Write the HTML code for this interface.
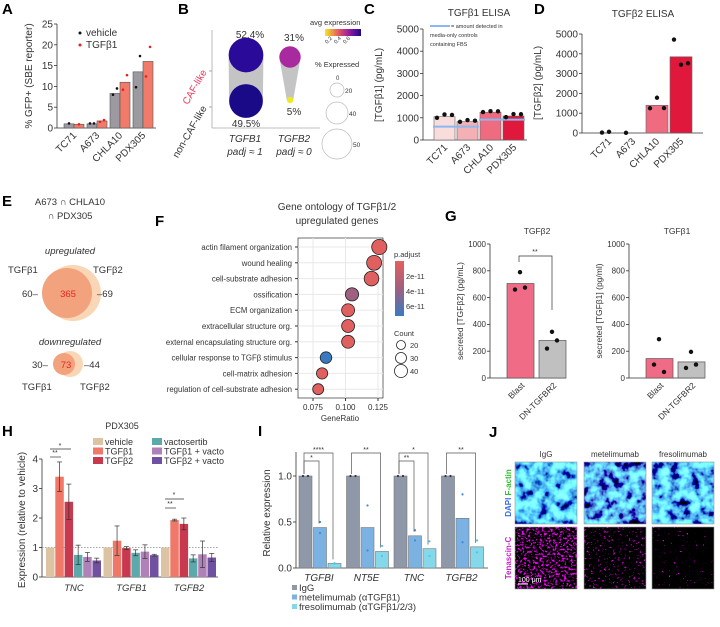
<!DOCTYPE html>
<html><head><meta charset="utf-8"><style>
html,body{margin:0;padding:0;background:#fff}
svg{display:block;font-family:"Liberation Sans",sans-serif}
text{fill:#333}
.pl{font-weight:bold;font-size:15px;fill:#000}
</style></head><body>
<svg id="fig" width="720" height="627" viewBox="0 0 720 627" xmlns="http://www.w3.org/2000/svg">
<defs>
<filter id="noiseA" x="0" y="0" width="100%" height="100%"><feTurbulence type="fractalNoise" baseFrequency="0.1" numOctaves="3" seed="3"/><feColorMatrix values="0.6 0 0 0 -0.2  3 0 0 0 -0.9  3 0 0 0 -0.45  0 0 0 0 1"/></filter>
<filter id="noiseB" x="0" y="0" width="100%" height="100%"><feTurbulence type="fractalNoise" baseFrequency="0.1" numOctaves="3" seed="9"/><feColorMatrix values="0.6 0 0 0 -0.2  3.4 0 0 0 -1.25  3.4 0 0 0 -0.8  0 0 0 0 1"/></filter>
<filter id="noiseC" x="0" y="0" width="100%" height="100%"><feTurbulence type="fractalNoise" baseFrequency="0.1" numOctaves="3" seed="17"/><feColorMatrix values="0.6 0 0 0 -0.2  3.2 0 0 0 -1.05  3.2 0 0 0 -0.6  0 0 0 0 1"/></filter>
<filter id="magA" x="0" y="0" width="100%" height="100%"><feTurbulence type="fractalNoise" baseFrequency="0.45" numOctaves="2" seed="5"/><feColorMatrix values="6 0 0 0 -3.3  0 0 0 0 0  6 0 0 0 -3.3  0 0 0 0 1"/></filter>
<filter id="magB" x="0" y="0" width="100%" height="100%"><feTurbulence type="fractalNoise" baseFrequency="0.45" numOctaves="2" seed="7"/><feColorMatrix values="8 0 0 0 -5.3  0 0 0 0 0  8 0 0 0 -5.3  0 0 0 0 1"/></filter>
<filter id="magC" x="0" y="0" width="100%" height="100%"><feTurbulence type="fractalNoise" baseFrequency="0.45" numOctaves="2" seed="11"/><feColorMatrix values="10 0 0 0 -7.4  0 0 0 0 0  10 0 0 0 -7.4  0 0 0 0 1"/></filter>
<linearGradient id="avg" x1="0" x2="1"><stop offset="0" stop-color="#f8e620"/><stop offset="0.4" stop-color="#e0506a"/><stop offset="0.7" stop-color="#8a1aa0"/><stop offset="1" stop-color="#1a0a8c"/></linearGradient>
<linearGradient id="padj" x1="0" y1="0" x2="0" y2="1"><stop offset="0" stop-color="#e36060"/><stop offset="0.5" stop-color="#a06080"/><stop offset="1" stop-color="#3a7ac0"/></linearGradient>
</defs>
<g id="root"></g>
</svg>
<script>
// ---- Panel A data
const aCats=["TC71","A673","CHLA10","PDX305"];
const aVeh=[1.0,1.0,8.3,13.5];
const aTgf=[0.9,1.7,11.0,16.0];
const aVehPts=[[1.1],[1.1,1.1],[9.5,8.0],[17.3,9.8]];
const aTgfPts=[[0.9],[1.9,1.5],[12.7,9.2],[19.5,12.4]];
const aTicks=[0,5,10,15,20,25];
// ---- Panel B data
const bPct=[[52.4,49.5],[31,5]];
const bGenes=["TGFB1","TGFB2"];
// ---- Panel C data
const cCats=["TC71","A673","CHLA10","PDX305"];
const cVals=[1050,830,1250,1080];
const cPts=[[1000,1150,1130],[820,900,870],[1260,1300,1290],[1030,1170,1160]];
const cMedia=[600,600,920,920];
const cTicks=[0,1000,2000,3000,4000,5000];
// ---- Panel D data
const dCats=["TC71","A673","CHLA10","PDX305"];
const dVals=[0,0,1400,3850];
const dPts=[[20,60],[10],[1250,1780,1260],[4720,3450,3520]];
const dTicks=[0,1000,2000,3000,4000,5000];
// ---- Panel F data
const fTerms=["actin filament organization","wound healing","cell-substrate adhesion","ossification","ECM organization","extracellular structure org.","external encapsulating structure org.","cellular response to TGFβ stimulus","cell-matrix adhesion","regulation of cell-substrate adhesion"];
const fRatio=[0.126,0.122,0.120,0.105,0.102,0.102,0.102,0.085,0.082,0.079];
const fPadj=[1e-12,1e-12,1e-12,4.5e-11,1e-12,1e-12,1e-12,7e-11,1e-12,1e-12];
const fCount=[40,39,38,33,32,32,32,27,26,25];
const fTicks=[0.075,0.100,0.125];
// ---- Panel G data
const gCats=["Blast","DN-TGFBR2"];
const g2Vals=[705,280];
const g2Pts=[[790,660,675],[345,220,280]];
const g1Vals=[145,120];
const g1Pts=[[290,100,45],[195,75,100]];
const gTicks=[0,200,400,600,800,1000];
// ---- Panel H data
const hGenes=["TNC","TGFB1","TGFB2"];
const hSeries=["vehicle","TGFβ1","TGFβ2","vactosertib","TGFβ1 + vacto","TGFβ2 + vacto"];
const hVals=[[1,3.4,2.55,0.75,0.68,0.56],[1,1.23,0.98,0.82,0.86,0.74],[1,1.93,1.8,0.63,0.77,0.66]];
const hErr=[[0,0.5,0.6,0.33,0.15,0.08],[0,0.5,0.05,0.1,0.23,0.03],[0,0.03,0.2,0.12,0.45,0.14]];
const hTicks=[0,1,2,3,4];
// ---- Panel I data
const iGenes=["TGFBI","NT5E","TNC","TGFB2"];
const iSeries=["IgG","metelimumab (αTGFβ1)","fresolimumab  (αTGFβ1/2/3)"];
const iVals=[[1,0.44,0.05],[1,0.44,0.18],[1,0.35,0.21],[1,0.54,0.23]];
const iPts=[[[1,1],[0.5,0.38],[0.05,0.05]],[[1,1],[0.68,0.19],[0.24,0.13]],[[1,1],[0.41,0.3],[0.29,0.13]],[[1,1],[0.8,0.28],[0.3,0.17]]];
const iTicks=[0,0.5,1.0];
const iSig=[["*","****"],["**"],["**","*"],["**"]];

const NS="http://www.w3.org/2000/svg";
const root=document.getElementById('root');
function el(tag,attrs,parent,txt){const e=document.createElementNS(NS,tag);for(const k in attrs)e.setAttribute(k,attrs[k]);if(txt!==undefined)e.textContent=txt;(parent||root).appendChild(e);return e;}
function grp(name){const g=el('g',{});return g;}
function lin(d0,d1,r0,r1){return v=>r0+(v-d0)/(d1-d0)*(r1-r0);}
function yAxis(g,x,y,ticks,fs,fmt){const y0=y(ticks[0]),y1=y(ticks[ticks.length-1]);el('line',{x1:x,x2:x,y1:y0,y2:y1,stroke:'#333','stroke-width':0.8},g);ticks.forEach(t=>{el('line',{x1:x-3,x2:x,y1:y(t),y2:y(t),stroke:'#333','stroke-width':0.8},g);el('text',{x:x-4,y:y(t)+fs*0.35,'text-anchor':'end','font-size':fs},g,fmt?fmt(t):t);});}
function rotLabel(g,x,y,txt,fs,ang){el('text',{x:x,y:y,'text-anchor':'end','font-size':fs,transform:`rotate(${ang||-45} ${x} ${y})`},g,txt);}
function dot(g,x,y,r,fill){el('circle',{cx:x,cy:y,r:r,fill:fill},g);}

// ================= A
(function(){const g=grp('panel-a');
el('text',{x:2,y:14,class:'pl'},g,'A');
const y=lin(0,25,128,24);
yAxis(g,57,y,aTicks,10);
el('line',{x1:57,x2:156,y1:128,y2:128,stroke:'#333','stroke-width':0.8},g);
el('text',{x:0,y:0,'font-size':10,'text-anchor':'middle',transform:'translate(32 76) rotate(-90)'},g,'% GFP+ (SBE reporter)');
aCats.forEach((c,i)=>{const x0=64+i*23;
 let b=el('rect',{x:x0,y:y(aVeh[i]),width:10,height:128-y(aVeh[i]),fill:'#9a9aa0',stroke:'#555','stroke-width':0.6},g);
 b=el('rect',{x:x0+10,y:y(aTgf[i]),width:10,height:128-y(aTgf[i]),fill:'#f07b6a',stroke:'#555','stroke-width':0.6},g);
 aVehPts[i].forEach((v,j)=>dot(g,x0+5+(j?-2:2)*(aVehPts[i].length>1?1:0),y(v),1.3,'#111'));
 aTgfPts[i].forEach((v,j)=>dot(g,x0+15+(j?-2:2)*(aTgfPts[i].length>1?1:0),y(v),1.3,'#e82020'));
 rotLabel(g,x0+13,136,c,10);});
dot(g,80,33,1.5,'#111');el('text',{x:86,y:36,'font-size':10},g,'vehicle');
dot(g,80,45,1.5,'#e82020');el('text',{x:86,y:48,'font-size':10},g,'TGFβ1');
})();

// ================= B
(function(){const g=grp('panel-b');
el('text',{x:178,y:14,class:'pl'},g,'B');
el('line',{x1:212,x2:212,y1:30,y2:128,stroke:'#aaa','stroke-width':0.8},g);
el('line',{x1:212,x2:320,y1:128,y2:128,stroke:'#aaa','stroke-width':0.8},g);
el('line',{x1:209,x2:212,y1:71,y2:71,stroke:'#aaa'},g);el('line',{x1:209,x2:212,y1:107,y2:107,stroke:'#aaa'},g);
el('text',{x:0,y:0,'font-size':10,'text-anchor':'end',transform:'translate(207 72) rotate(-60)',style:'fill:#e83a5a'},g,'CAF-like');
el('text',{x:0,y:0,'font-size':10,'text-anchor':'end',transform:'translate(207 108) rotate(-60)'},g,'non-CAF-like');
const r=p=>Math.sqrt(p)*2.4;
el('path',{d:`M${246-r(bPct[0][0])} 58 L${246-r(bPct[0][1])} 100 L${246+r(bPct[0][1])} 100 L${246+r(bPct[0][0])} 58Z`,fill:'#c4c4c4'},g);
el('path',{d:`M${290-r(bPct[1][0])*0.8} 57 L${290-r(bPct[1][1])*0.6} 100 L${290+r(bPct[1][1])*0.6} 100 L${290+r(bPct[1][0])*0.8} 57Z`,fill:'#c4c4c4'},g);
let c=el('circle',{cx:246,cy:55,r:r(bPct[0][0]),fill:'#2a0a98'},g);
c=el('circle',{cx:246,cy:101,r:r(bPct[0][1]),fill:'#1a0a88'},g);
c=el('circle',{cx:290,cy:57,r:r(bPct[1][0])*0.8,fill:'#a82a9e'},g);
c=el('circle',{cx:290,cy:100,r:r(bPct[1][1])*0.6,fill:'#f0e820'},g);
el('text',{x:250,y:38,'text-anchor':'middle','font-size':10},g,bPct[0][0]+'%');
el('text',{x:246,y:127,'text-anchor':'middle','font-size':10},g,bPct[0][1]+'%');
el('text',{x:294,y:41,'text-anchor':'middle','font-size':10},g,bPct[1][0]+'%');
el('text',{x:294,y:115,'text-anchor':'middle','font-size':10},g,bPct[1][1]+'%');
el('text',{x:245,y:142,'text-anchor':'middle','font-size':10,'font-style':'italic'},g,'TGFB1');
el('text',{x:245,y:155,'text-anchor':'middle','font-size':10,'font-style':'italic'},g,'padj ≈ 1');
el('text',{x:294,y:142,'text-anchor':'middle','font-size':10,'font-style':'italic'},g,'TGFB2');
el('text',{x:294,y:155,'text-anchor':'middle','font-size':10,'font-style':'italic'},g,'padj ≈ 0');
el('text',{x:310,y:25,'font-size':7.5},g,'avg expression');
el('rect',{x:325,y:29,width:36,height:7,fill:'url(#avg)'},g);
['0.2','0.4','0.6'].forEach((t,i)=>el('text',{x:0,y:0,'font-size':5.5,transform:`translate(${327+i*9} 44) rotate(-45)`},g,t));
el('text',{x:315,y:67,'font-size':7.5},g,'% Expressed');
el('text',{x:336,y:80,'font-size':6},g,'0');
[[20,7,90],[40,11,113],[50,15,144]].forEach(a=>{el('circle',{cx:337,cy:a[2],r:a[1],fill:'none',stroke:'#bbb','stroke-width':0.7},g);el('text',{x:337+a[1]+1,y:a[2]+3,'font-size':6.5},g,a[0]);});
})();

// ================= C
(function(){const g=grp('panel-c');
el('text',{x:364,y:14,class:'pl'},g,'C');
el('text',{x:479,y:16,'text-anchor':'middle','font-size':10},g,'TGFβ1 ELISA');
const y=lin(0,5000,140,29);
yAxis(g,423,y,cTicks,10);
el('line',{x1:423,x2:527,y1:140,y2:140,stroke:'#333','stroke-width':0.8},g);
el('text',{x:0,y:0,'font-size':10,'text-anchor':'middle',transform:'translate(382 85) rotate(-90)'},g,'[TGFβ1] (pg/mL)');
const cols=['#f9dcdc','#f3b0b5','#ee6b80','#e0183c'];
cCats.forEach((c,i)=>{const x0=434+i*23;
 const b=el('rect',{x:x0,y:y(cVals[i]),width:21,height:140-y(cVals[i]),fill:cols[i],stroke:'#666','stroke-width':0.6},g);
 el('line',{x1:x0-1,x2:x0+22,y1:y(cMedia[i]),y2:y(cMedia[i]),stroke:'#8ab8f0','stroke-width':2},g);
 cPts[i].forEach((v,j)=>dot(g,x0+3+j*7.5,y(v),2.2,'#111'));
 rotLabel(g,x0+14,148,c,10);});
el('line',{x1:430,x2:450,y1:26,y2:26,stroke:'#8ab8f0','stroke-width':2},g);
el('text',{x:451,y:28,'font-size':5.5},g,'= amount detected in');
el('text',{x:430,y:37,'font-size':5.5},g,'media-only controls');
el('text',{x:430,y:46,'font-size':5.5},g,'containing FBS');
})();

// ================= D
(function(){const g=grp('panel-d');
el('text',{x:534,y:14,class:'pl'},g,'D');
el('text',{x:643,y:17,'text-anchor':'middle','font-size':10},g,'TGFβ2 ELISA');
const y=lin(0,5000,133,34);
yAxis(g,582,y,dTicks,10);
el('line',{x1:582,x2:703,y1:133,y2:133,stroke:'#333','stroke-width':0.8},g);
el('text',{x:0,y:0,'font-size':10,'text-anchor':'middle',transform:'translate(541 83) rotate(-90)'},g,'[TGFβ2] (pg/mL)');
const cols=['#f9dcdc','#f3b0b5','#ee6b80','#e0183c'];
dCats.forEach((c,i)=>{const x0=598+i*24;
 if(dVals[i]>0){const b=el('rect',{x:x0,y:y(dVals[i]),width:22,height:133-y(dVals[i]),fill:cols[i],stroke:'#666','stroke-width':0.6},g);}
 dPts[i].forEach((v,j)=>dot(g,x0+4+j*7,y(v),2.2,'#111'));
 rotLabel(g,x0+14,142,c,10);});
})();

// ================= E
(function(){const g=grp('panel-e');
el('text',{x:2,y:206,class:'pl'},g,'E');
el('text',{x:70,y:205,'text-anchor':'middle','font-size':9.5},g,'A673 ∩ CHLA10');
el('text',{x:70,y:219,'text-anchor':'middle','font-size':9.5},g,'∩ PDX305');
el('text',{x:70,y:254,'text-anchor':'middle','font-size':9.5,'font-style':'italic'},g,'upregulated');
el('circle',{cx:73,cy:293,r:28,fill:'#f9d6b6'},g);
el('circle',{cx:67,cy:293,r:25,fill:'#f2a27c'},g);
el('text',{x:68,y:297,'text-anchor':'middle','font-size':9.5,style:'fill:#e8262a'},g,'365');
el('text',{x:8,y:273,'font-size':9.5},g,'TGFβ1');el('text',{x:93,y:273,'font-size':9.5},g,'TGFβ2');
el('text',{x:22,y:297,'font-size':9.5},g,'60–');el('text',{x:97,y:297,'font-size':9.5},g,'–69');
el('text',{x:70,y:345,'text-anchor':'middle','font-size':9.5,'font-style':'italic'},g,'downregulated');
el('circle',{cx:70,cy:364,r:13,fill:'#f9d6b6'},g);
el('circle',{cx:64,cy:364,r:11,fill:'#f2a27c'},g);
el('text',{x:66,y:368,'text-anchor':'middle','font-size':9.5,style:'fill:#e8262a'},g,'73');
el('text',{x:32,y:368,'font-size':9.5},g,'30–');el('text',{x:84,y:368,'font-size':9.5},g,'–44');
el('text',{x:22,y:390,'font-size':9.5},g,'TGFβ1');el('text',{x:80,y:390,'font-size':9.5},g,'TGFβ2');
})();

// ================= F
(function(){const g=grp('panel-f');
el('text',{x:155,y:226,class:'pl'},g,'F');
el('text',{x:337,y:210,'text-anchor':'middle','font-size':10},g,'Gene ontology of TGFβ1/2');
el('text',{x:337,y:224,'text-anchor':'middle','font-size':10},g,'upregulated genes');
const x=lin(0.075,0.125,313,378);
const yr=i=>247+i*15.8;
el('rect',{x:298,y:238,width:85,height:160,fill:'#fff',stroke:'#333','stroke-width':0.7},g);
fTicks.forEach(t=>{el('line',{x1:x(t),x2:x(t),y1:238,y2:398,stroke:'#e8e8e8'},g);el('line',{x1:x(t),x2:x(t),y1:398,y2:401,stroke:'#333'},g);el('text',{x:x(t),y:410,'text-anchor':'middle','font-size':8},g,t.toFixed(3));});
el('text',{x:340,y:421,'text-anchor':'middle','font-size':8},g,'GeneRatio');
const col=p=>p>6e-11?'#3a7ac0':(p>3e-11?'#a06080':'#e06060');
fTerms.forEach((t,i)=>{el('line',{x1:298,x2:383,y1:yr(i),y2:yr(i),stroke:'#e8e8e8'},g);el('line',{x1:295,x2:298,y1:yr(i),y2:yr(i),stroke:'#333'},g);
 el('text',{x:292,y:yr(i)+3,'text-anchor':'end','font-size':7.8},g,t);
 const c=el('circle',{cx:x(fRatio[i]),cy:yr(i),r:2+fCount[i]*0.14,fill:col(fPadj[i]),stroke:'#222','stroke-width':0.8},g);});
el('text',{x:394,y:257,'font-size':7.5},g,'p.adjust');
el('rect',{x:395,y:261,width:9,height:55,fill:'url(#padj)'},g);
[['2e-11',276],['4e-11',291],['6e-11',306]].forEach(a=>el('text',{x:406,y:a[1]+3,'font-size':7.5},g,a[0]));
el('text',{x:394,y:336,'font-size':7.5},g,'Count');
[[20,345,4.5],[30,358,5.5],[40,371,6.5]].forEach(a=>{el('circle',{cx:401,cy:a[1],r:a[2],fill:'none',stroke:'#222','stroke-width':0.8},g);el('text',{x:410,y:a[1]+3,'font-size':7.5},g,a[0]);});
})();

// ================= G
(function(){const g=grp('panel-g');
el('text',{x:445,y:221,class:'pl'},g,'G');
const y=lin(0,1000,378,244);
function sub(ax,vals,pts,title,lab,tx){
 el('text',{x:tx,y:234,'text-anchor':'middle','font-size':8.5},g,title);
 yAxis(g,ax,y,gTicks,8);
 el('line',{x1:ax,x2:ax+76,y1:378,y2:378,stroke:'#333','stroke-width':0.8},g);
 el('text',{x:0,y:0,'font-size':8.5,'text-anchor':'middle',transform:`translate(${ax-27} 311) rotate(-90)`},g,lab);
 const cols=['#f06c86','#c0c0c0'];
 gCats.forEach((c,i)=>{const x0=ax+17+i*32;
  const b=el('rect',{x:x0,y:y(vals[i]),width:27,height:378-y(vals[i]),fill:cols[i],stroke:'#555','stroke-width':0.7},g);
  pts[i].forEach((v,j)=>dot(g,x0+13+[0,-5,5][j],y(v),2.2,'#111'));
  rotLabel(g,x0+18,386,c,8.5);});}
sub(490,g2Vals,g2Pts,'TGFβ2','secreted [TGFβ2] (pg/mL)',537);
sub(629,g1Vals,g1Pts,'TGFβ1','secreted [TGFβ1] (pg/ml)',677);
el('path',{d:'M519 262 V256 H552 V310',fill:'none',stroke:'#333','stroke-width':0.7},g);
el('text',{x:535,y:254,'text-anchor':'middle','font-size':7},g,'**');
})();

// ================= H
(function(){const g=grp('panel-h');
el('text',{x:2,y:436,class:'pl'},g,'H');
el('text',{x:122,y:429,'text-anchor':'middle','font-size':9},g,'PDX305');
const y=lin(0,4,577,459);
yAxis(g,42,y,hTicks,10);
el('line',{x1:42,x2:218,y1:577,y2:577,stroke:'#333','stroke-width':0.8},g);
el('line',{x1:42,x2:218,y1:y(1),y2:y(1),stroke:'#888','stroke-width':0.7,'stroke-dasharray':'1.5,1.5'},g);
el('text',{x:0,y:0,'font-size':10,'text-anchor':'middle',transform:'translate(25 520) rotate(-90)'},g,'Expression (relative to vehicle)');
const cols=['#dcc3a4','#f07868','#c8384e','#5ba9aa','#b080b8','#7050a0'];
hGenes.forEach((gn,k)=>{const gx=46+k*57.5;
 hVals[k].forEach((v,i)=>{const x0=gx+i*9.3;
  const b=el('rect',{x:x0,y:y(v),width:8.5,height:577-y(v),fill:cols[i]},g);
  if(hErr[k][i]>0){const cx=x0+4.25;el('line',{x1:cx,x2:cx,y1:y(v+hErr[k][i]),y2:y(v-hErr[k][i]),stroke:'#333','stroke-width':0.7},g);[v+hErr[k][i],v-hErr[k][i]].forEach(e=>el('line',{x1:cx-2.5,x2:cx+2.5,y1:y(e),y2:y(e),stroke:'#333','stroke-width':0.7},g));}});
 el('text',{x:gx+28,y:591,'text-anchor':'middle','font-size':9.5,'font-style':'italic'},g,gn);});
el('line',{x1:50,x2:61,y1:457,y2:457,stroke:'#333','stroke-width':0.7},g);el('text',{x:55,y:455,'text-anchor':'middle','font-size':7},g,'**');
el('line',{x1:50,x2:71,y1:449,y2:449,stroke:'#333','stroke-width':0.7},g);el('text',{x:60,y:448,'text-anchor':'middle','font-size':7},g,'*');
el('line',{x1:165,x2:176,y1:508,y2:508,stroke:'#333','stroke-width':0.7},g);el('text',{x:170,y:506,'text-anchor':'middle','font-size':7},g,'**');
el('line',{x1:165,x2:184,y1:499,y2:499,stroke:'#333','stroke-width':0.7},g);el('text',{x:174,y:497,'text-anchor':'middle','font-size':7},g,'*');
hSeries.forEach((s,i)=>{const lx=i<3?93:152,ly=444+(i%3)*9.5;
 el('rect',{x:lx,y:ly-6,width:10,height:7,fill:cols[i]},g);el('text',{x:lx+12,y:ly+1,'font-size':9},g,s);});
})();

// ================= I
(function(){const g=grp('panel-i');
el('text',{x:258,y:436,class:'pl'},g,'I');
const y=lin(0,1,568,476);
yAxis(g,296,y,iTicks,10,t=>t.toFixed(1));
el('line',{x1:296,x2:296,y1:476,y2:452,stroke:'#333','stroke-width':0.8},g);
el('line',{x1:296,x2:488,y1:568,y2:568,stroke:'#333','stroke-width':0.8},g);
el('text',{x:0,y:0,'font-size':10,'text-anchor':'middle',transform:'translate(270 513) rotate(-90)'},g,'Relative expression');
const cols=['#8e98a8','#7cb2e2','#84d8ea'];const pc=['#333','#3a8ae0','#44c8e8'];
iGenes.forEach((gn,k)=>{const gx=299+k*47.5;
 iVals[k].forEach((v,i)=>{const x0=gx+i*14.5;
  const b=el('rect',{x:x0,y:y(v),width:13,height:568-y(v),fill:cols[i],stroke:'#777','stroke-width':0.6},g);
  iPts[k][i].forEach((p,j)=>dot(g,x0+4+j*5*(i==0?1:0)+(i?2.5:0),y(p),1.1,pc[i]));});
 el('text',{x:gx+20,y:581,'text-anchor':'middle','font-size':10,'font-style':'italic'},g,gn);
 const top=y(1)-2;
 iSig[k].forEach((s,j)=>{const n=iSig[k].length;const tx=n==2?(j==0?gx+20:gx+34):gx+34;const ly=n==2?(j==0?461:453):453;
  el('path',{d:`M${gx+5} ${top} V${ly} H${tx} V${y(iVals[k][n==2?j+1:2])-4}`,fill:'none',stroke:'#555','stroke-width':0.7},g);
  el('text',{x:(gx+5+tx)/2,y:ly-1,'text-anchor':'middle','font-size':7},g,s);});});
iSeries.forEach((s,i)=>{el('rect',{x:292,y:585+i*9.5,width:5,height:5,fill:cols[i]},g);el('text',{x:299,y:591+i*9.5,'font-size':9.5},g,s);});
})();

// ================= J
(function(){const g=grp('panel-j');
el('text',{x:489,y:437,class:'pl'},g,'J');
const titles=['IgG','metelimumab','fresolimumab'];const xs=[515,584,652];
const nf=['url(#noiseA)','url(#noiseB)','url(#noiseC)'];const mf=['url(#magA)','url(#magB)','url(#magC)'];
titles.forEach((t,i)=>{el('text',{x:xs[i]+31,y:457,'text-anchor':'middle','font-size':8},g,t);
 let r=el('rect',{x:xs[i],y:462,width:62,height:62,filter:nf[i]},g);
 el('rect',{x:xs[i],y:462,width:62,height:62,fill:'none',stroke:'#999','stroke-width':0.6},g);
 r=el('rect',{x:xs[i],y:527,width:62,height:62,filter:mf[i]},g);
 el('rect',{x:xs[i],y:527,width:62,height:62,fill:'none',stroke:'#999','stroke-width':0.6},g);});
const tj=el('text',{x:0,y:0,'font-size':8,'font-weight':'bold','text-anchor':'middle',transform:'translate(511 493) rotate(-90)'},g);
el('tspan',{style:'fill:#3a6ae8'},tj,'DAPI ');el('tspan',{style:'fill:#30c030'},tj,'F-actin');
el('text',{x:0,y:0,'font-size':8,'font-weight':'bold','text-anchor':'middle',transform:'translate(511 558) rotate(-90)',style:'fill:#d020d0'},g,'Tenascin-C');
el('line',{x1:518,x2:528,y1:584,y2:584,stroke:'#fff','stroke-width':1},g);
el('text',{x:518,y:582,'font-size':7,style:'fill:#fff'},g,'100 μm');
})();
</script>
</body></html>
